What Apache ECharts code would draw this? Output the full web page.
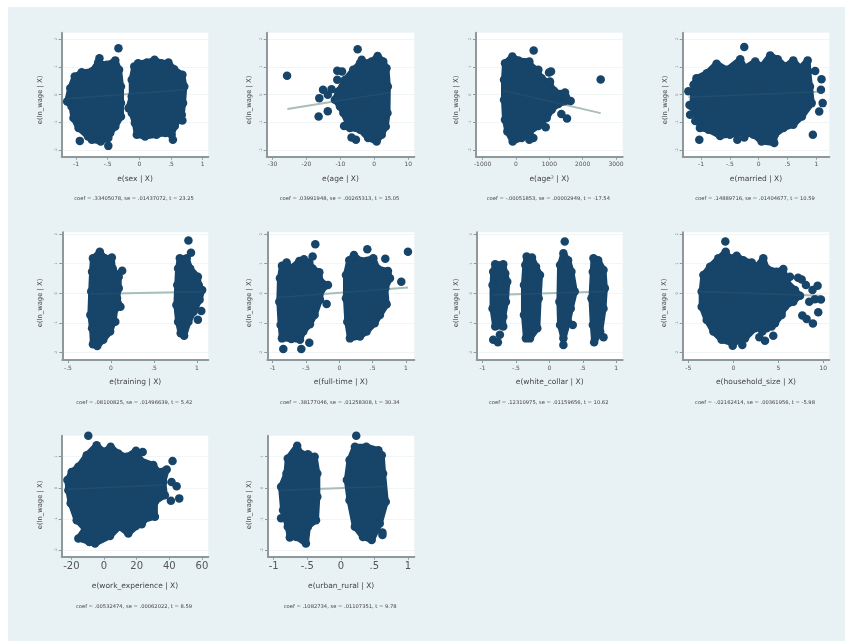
<!DOCTYPE html>
<html>
<head>
<meta charset="utf-8">
<script src="https://cdn.jsdelivr.net/npm/echarts@6/dist/echarts.min.js"></script>
<style>
html, body { margin: 0; padding: 0; background: #fff; }
#chart { width: 845px; height: 641px; filter: blur(0.6px); }
</style>
</head>
<body>
<div id="chart"></div>
<script>
// added-variable plots, values
const xNames = ['e(sex | X)', 'e(age | X)', 'e(age² | X)', 'e(married | X)', 'e(training | X)',
  'e(full-time | X)', 'e(white_collar | X)', 'e(household_size | X)', 'e(work_experience | X)', 'e(urban_rural | X)']
const coefTexts = [
  'coef = .33405078, se = .01437072, t = 23.25',
  'coef = .03991948, se = .00265313, t = 15.05',
  'coef = -.00051853, se = .00002949, t = -17.54',
  'coef = .14889716, se = .01404677, t = 10.59',
  'coef = .08100825, se = .01496639, t = 5.42',
  'coef = .38177046, se = .01258308, t = 30.34',
  'coef = .12310975, se = .01159656, t = 10.62',
  'coef = -.02162414, se = .00361956, t = -5.98',
  'coef = .00532474, se = .00062022, t = 8.59',
  'coef = .1082734, se = .01107351, t = 9.78'
]
const yTicks = [-2, -1, 0, 1, 2]
const yTicksLow = [-2, -1, 0, 1]
const xTicksUnit = [-1, -0.5, 0, 0.5, 1]
const xTicksAge = [-30, -20, -10, 0, 10]
const xTicksAge2 = [-1000, 0, 1000, 2000, 3000]
const xTicksTraining = [-0.5, 0, 0.5, 1]
const xTicksHousehold = [-5, 0, 5, 10]
const xTicksWork = [-20, 0, 20, 40, 60]

// e(sex)
const sexLeft = [[-1.02,.65],[-.91,.8],[-.75,.83],[-.65,1.15],[-.51,1.07],[-.38,1.23],[-.32,.89],[-.29,.29],[-.29,-.31],[-.29,-.79],[-.38,-1.15],[-.46,-1.39],[-.49,-1.57],[-.61,-1.69],[-.75,-1.63],[-.81,-1.51],[-.96,-1.21],[-1.04,-.85],[-1.07,-.43],[-1.14,-.25],[-1.09,.23]]
const sexRight = [[-.08,1.01],[-.02,1.13],[.12,1.15],[.24,1.25],[.35,1.13],[.46,1.15],[.55,.91],[.68,.71],[.71,.29],[.69,-.31],[.67,-.73],[.56,-1.13],[.51,-1.45],[.41,-1.39],[.27,-1.45],[.09,-1.51],[-.04,-1.45],[-.07,-1.03],[-.12,-.67],[-.17,-.49],[-.12,-.07],[-.12,.53]]
const sexOut = [[-.33,1.67],[-.63,1.31],[-.49,-1.85],[-.94,-1.67],[.68,-.94],[.53,-1.63]]
const sexFit = [[-1.15,-.15],[.72,.17]]
// e(age)
const ageBlob = [[-4.2,1.13],[-.8,1.19],[1,1.39],[2.65,1.19],[3.6,.95],[4,.29],[3.9,-.67],[3.4,-1.15],[2.2,-1.45],[.7,-1.69],[-1.8,-1.57],[-4.2,-1.27],[-7.2,-1.21],[-9.1,-.67],[-10.1,-.43],[-11.6,-.19],[-10.6,.11],[-8.6,.53],[-6.2,.89]]
const ageOut = [[-4.9,1.63],[-25.7,.68],[-16.2,-.13],[-16.4,-.79],[-13.7,-.6],[-15.1,.17],[-13.7,-.01],[-12.6,.19],[-10.9,.53],[-10.9,.86],[-9.5,.83],[-8.9,-1.13],[-6.7,-1.55],[-5.4,-1.63],[-3.7,1.25]]
const ageFit = [[-25.6,-.52],[4.6,.07]]
// e(age²)
const age2Blob = [[-330,1.13],[-110,1.37],[70,1.23],[400,1.19],[500,.95],[640,.83],[770,.59],[1000,.41],[1140,.14],[1320,.02],[1470,.07],[1500,-.1],[1640,-.23],[1270,-.34],[1070,-.55],[920,-.85],[670,-1.13],[420,-1.33],[170,-1.57],[-100,-1.69],[-260,-1.33],[-330,-.91],[-360,-.19],[-360,.53]]
const age2Out = [[530,1.59],[2540,.54],[990,.79],[1050,.83],[1020,.47],[1360,-.7],[1530,-.86],[890,-1.18],[520,-1.57],[400,-1.63],[670,.89]]
const age2Fit = [[-380,.14],[2540,-.67]]
// e(married)
const marriedBlob = [[-1.08,.59],[-.9,.77],[-.73,1.11],[-.55,.89],[-.32,1.27],[-.24,.95],[-.06,1.19],[.05,1.01],[.2,1.41],[.33,1.27],[.46,1.01],[.6,1.23],[.72,.95],[.85,1.23],[.86,.83],[.89,.29],[.92,-.31],[.75,-.79],[.6,-1.09],[.43,-1.21],[.28,-1.45],[.27,-1.75],[.05,-1.69],[-.09,-1.45],[-.27,-1.39],[-.5,-1.45],[-.67,-1.49],[-.87,-1.27],[-1.02,-1.21],[-1.05,-.79],[-1.16,-.43],[-1.13,.05],[-1.13,.35]]
const marriedOut = [[-.25,1.71],[-1.22,.12],[-1.2,-.38],[-1.19,-.73],[-1.1,-.95],[-1.03,-1.63],[-.37,-1.63],[-.25,-1.55],[.98,.85],[1.09,.55],[1.08,.17],[1.11,-.31],[1.05,-.61],[.94,-1.45]]
const marriedFit = [[-1.22,-.1],[1.15,.11]]
// e(training)
const trainingLeft = [[-.21,1.18],[-.13,1.4],[-.07,1.18],[.01,1.21],[.02,.84],[.09,.56],[.09,.17],[.07,-.17],[.11,-.45],[.05,-.51],[.03,-.96],[-.01,-1.29],[-.09,-1.57],[-.16,-1.78],[-.21,-1.72],[-.22,-1.18],[-.24,-.73],[-.23,.06],[-.22,.73]]
const trainingRight = [[.8,1.18],[.88,1.18],[.92,.84],[1.01,.56],[1.02,.28],[1.06,.11],[1.03,-.22],[.96,-.62],[.9,-.96],[.85,-1.43],[.81,-1.35],[.78,-.96],[.76,-.39],[.77,.28],[.78,.84]]
const trainingOut = [[.13,.76],[.05,-.96],[.9,1.78],[.93,1.37],[1.05,-.6],[1.01,-.89]]
const trainingFit = [[-.24,-.02],[1.06,.05]]
// e(full-time)
const fullLeft = [[-.86,.93],[-.79,1.04],[-.73,.84],[-.6,1.09],[-.53,1.15],[-.45,1.04],[-.4,.84],[-.3,.71],[-.28,.39],[-.17,.28],[-.27,.11],[-.29,-.22],[-.37,-.73],[-.44,-1.04],[-.54,-1.29],[-.59,-1.57],[-.72,-1.54],[-.86,-1.52],[-.88,-1.07],[-.9,-.28],[-.89,.51]]
const fullRight = [[.15,1.12],[.22,1.29],[.32,1.09],[.51,1.18],[.57,.84],[.73,.75],[.76,.51],[.69,.17],[.71,-.37],[.61,-.73],[.53,-1.01],[.41,-1.29],[.31,-1.46],[.16,-1.52],[.12,-.96],[.1,-.17],[.1,.62]]
const fullOut = [[-.36,1.66],[-.4,1.24],[-.19,-.36],[-.45,-1.67],[-.57,-1.88],[-.84,-1.88],[.42,1.49],[.69,1.17],[1.03,1.4],[.93,.39]]
const fullFit = [[-.92,-.14],[1.03,.2]]
// e(white_collar)
const collarA = [[-.81,.98],[-.69,.98],[-.66,.67],[-.63,.39],[-.65,-.28],[-.69,-.79],[-.69,-1.12],[-.81,-1.12],[-.85,-.51],[-.85,.28],[-.84,.73]]
const collarB = [[-.34,1.24],[-.26,1.21],[-.2,.9],[-.14,.62],[-.16,-.17],[-.18,-1.18],[-.29,-1.52],[-.35,-1.52],[-.38,-.73],[-.38,.28],[-.36,.96]]
const collarC = [[.21,1.35],[.28,1.12],[.33,.73],[.38,.06],[.32,-.51],[.28,-.96],[.21,-1.52],[.16,-1.07],[.15,-.28],[.16,.96]]
const collarD = [[.66,1.18],[.73,1.12],[.81,.79],[.83,.17],[.81,-.51],[.76,-1.29],[.67,-1.65],[.65,-1.07],[.63,-.17],[.65,.73]]
const collarOut = [[-.84,-1.57],[-.77,-1.65],[-.74,-1.4],[.23,1.75],[.21,-1.74],[.35,-1.07],[.81,-1.48]]
const collarFit = [[-.85,-.06],[.83,.06]]
// e(household_size)
const householdBlob = [[-3.52,.06],[-3.33,.62],[-2.59,.9],[-1.67,1.18],[-.85,1.4],[-.37,1.18],[.37,1.27],[1.11,1.12],[2.04,1.04],[2.59,.9],[3.33,1.18],[3.7,.84],[4.81,.73],[5.56,.82],[5.93,.39],[6.85,.11],[7.41,-.08],[6.67,-.28],[5.74,-.45],[5.37,-.73],[4.63,-1.01],[3.7,-1.18],[2.41,-1.18],[1.3,-1.52],[-.07,-1.69],[-1.3,-1.57],[-2.22,-1.29],[-2.96,-.9],[-3.52,-.45]]
const householdOut = [[-.89,1.75],[6.3,.56],[7.2,.53],[7.6,.47],[8.07,.28],[8.8,.11],[9.37,.26],[8.44,-.28],[9.07,-.2],[9.74,-.21],[9.44,-.64],[7.67,-.75],[8.15,-.87],[8.85,-1.02],[4.44,-1.43],[3.52,-1.6],[2.89,-1.48],[3.22,-1.29],[4.26,-1.12],[1,-1.74],[-.07,-1.77]]
const householdFit = [[-3.9,.06],[9.8,-.08]]
// e(work_experience)
const workBlob = [[-22.4,.25],[-19.8,.51],[-15.7,.68],[-10.6,1.05],[-4.5,1.37],[0,1.16],[4.1,1.32],[8.8,1.1],[13.9,1],[19.6,1.19],[22,.89],[30.2,.73],[33.3,.51],[38.4,.59],[36.3,.19],[37.3,-.24],[31.2,-.45],[31.2,-.93],[24.1,-1.04],[14.9,-1.47],[9.4,-1.25],[3.7,-1.55],[-5.5,-1.79],[-9,-1.74],[-15.7,-1.63],[-11.6,-1.31],[-16.7,-1.04],[-20.4,-.5],[-21.8,-.08]]
const workOut = [[-9.6,1.67],[23.7,1.15],[42,.86],[41.4,.19],[44.5,.05],[41,-.42],[46.1,-.34],[19.6,-1.23],[23.1,-1.17]]
const workFit = [[-21.8,-.05],[36.3,.09]]
// e(urban_rural)
const urbanLeft = [[-.79,.94],[-.65,1.35],[-.6,1.1],[-.49,1.08],[-.39,1],[-.35,.46],[-.35,-.29],[-.37,-1.04],[-.49,-1.25],[-.52,-1.79],[-.66,-1.58],[-.76,-1.6],[-.79,-1.25],[-.86,-.72],[-.89,.03],[-.81,.46]]
const urbanRight = [[.13,.89],[.21,1.32],[.38,1.32],[.56,1.21],[.61,1.05],[.63,.46],[.67,-.45],[.58,-1.15],[.46,-1.68],[.33,-1.58],[.21,-1.25],[.13,-.4],[.09,.25]]
const urbanOut = [[-.89,-.98],[-.54,-1.52],[.23,1.67],[.62,-1.44],[.62,-1.52]]
const urbanFit = [[-.89,-.08],[.67,.04]]

const navy = '#174469'
const fitColor = '#a9bfb8'
const axisColor = '#8f999b'
const rows = [
  { top: 32.7, bottom: 156.7, yMin: -2.24, yMax: 2.227, ticks: yTicks, nameY: 178.7, coefY: 199.3, yNameC: 100 },
  { top: 232.3, bottom: 360, yMin: -2.25, yMax: 2.06, ticks: yTicks, nameY: 382, coefY: 403, yNameC: 303 },
  { top: 435.7, bottom: 556.7, yMin: -2.215, yMax: 1.675, ticks: yTicksLow, nameY: 585.7, coefY: 606.7, yNameC: 505 }
]
// 每个子图: 位置, 轴范围, 点团, 离群点, 拟合线
const panels = [
  { row: 0, left: 61.7, right: 208.3, yNameX: 40, xMin: -1.226, xMax: 1.089, xTicks: xTicksUnit, blobs: [sexLeft, sexRight], out: sexOut, fit: sexFit, font: 6 },
  { row: 0, left: 266.7, right: 414.3, yNameX: 249, xMin: -31.7, xMax: 11.8, xTicks: xTicksAge, blobs: [ageBlob], out: ageOut, fit: ageFit, font: 6 },
  { row: 0, left: 476, right: 622.7, yNameX: 456.7, xMin: -1200, xMax: 3200, xTicks: xTicksAge2, blobs: [age2Blob], out: age2Out, fit: age2Fit, font: 6 },
  { row: 0, left: 682.7, right: 829.3, yNameX: 665, xMin: -1.318, xMax: 1.225, xTicks: xTicksUnit, blobs: [marriedBlob], out: marriedOut, fit: marriedFit, font: 6 },
  { row: 1, left: 62.3, right: 208.3, yNameX: 40, xMin: -.566, xMax: 1.131, xTicks: xTicksTraining, blobs: [trainingLeft, trainingRight], out: trainingOut, fit: trainingFit, font: 6 },
  { row: 1, left: 267.3, right: 414.3, yNameX: 249, xMin: -1.08, xMax: 1.125, xTicks: xTicksUnit, blobs: [fullLeft, fullRight], out: fullOut, fit: fullFit, font: 6 },
  { row: 1, left: 476.7, right: 622.7, yNameX: 456, xMin: -1.087, xMax: 1.097, xTicks: xTicksUnit, blobs: [collarA, collarB, collarC, collarD], out: collarOut, fit: collarFit, font: 6 },
  { row: 1, left: 682.7, right: 829.3, yNameX: 664, xMin: -5.63, xMax: 10.67, xTicks: xTicksHousehold, blobs: [householdBlob], out: householdOut, fit: householdFit, font: 6 },
  { row: 2, left: 61.7, right: 208.3, yNameX: 40, xMin: -25.9, xMax: 63.9, xTicks: xTicksWork, blobs: [workBlob], out: workOut, fit: workFit, font: 10 },
  { row: 2, left: 268, right: 414.3, yNameX: 249, xMin: -1.085, xMax: 1.095, xTicks: xTicksUnit, blobs: [urbanLeft, urbanRight], out: urbanOut, fit: urbanFit, font: 10 }
]

const shortNum = (v) => String(v).replace('0.', '.')

// 点团内部用多边形填满
const blobSeries = (points, i) => ({
  type: 'custom',
  xAxisIndex: i,
  yAxisIndex: i,
  z: 3,
  silent: true,
  clip: true,
  encode: { x: 0, y: 1 },
  data: points,
  renderItem: (params, api) => {
    if (params.dataIndex !== 0) return null
    return {
      type: 'polygon',
      shape: { points: points.map((p) => api.coord(p)) },
      style: { fill: navy, stroke: navy, lineWidth: 6, lineJoin: 'round' }
    }
  }
})

const options = {
  backgroundColor: '#fff',
  animation: false,
  textStyle: { fontFamily: 'DejaVu Sans' },
  graphic: [{
    type: 'rect',
    z: -10,
    shape: { x: 8, y: 7, width: 837, height: 634 },
    style: { fill: '#e8f1f4' }
  }],
  grid: [],
  xAxis: [],
  yAxis: [],
  title: [],
  series: []
}

panels.forEach((p, i) => {
  const r = rows[p.row]
  options.grid.push({
    left: p.left, top: r.top, width: p.right - p.left, height: r.bottom - r.top,
    show: true, backgroundColor: '#fff', borderWidth: 0
  })
  options.xAxis.push({
    gridIndex: i, type: 'value', min: p.xMin, max: p.xMax,
    name: xNames[i], nameLocation: 'middle', nameGap: r.nameY - r.bottom - 4,
    nameTextStyle: { fontSize: 7.5, color: '#444' },
    axisLine: { show: true, onZero: false, lineStyle: { color: axisColor, width: 2 } },
    axisTick: { show: true, length: 3, customValues: p.xTicks, lineStyle: { color: axisColor } },
    axisLabel: { customValues: p.xTicks, formatter: shortNum, fontSize: p.font, color: '#555', margin: 5 },
    splitLine: { show: false }
  })
  options.yAxis.push({
    gridIndex: i, type: 'value', min: r.yMin, max: r.yMax,
    axisLine: { show: true, onZero: false, lineStyle: { color: axisColor, width: 2 } },
    axisTick: { show: true, length: 3, customValues: r.ticks, lineStyle: { color: axisColor } },
    axisLabel: { customValues: r.ticks, rotate: 90, fontSize: 3.5, color: '#777', margin: 4 },
    splitLine: { show: true, lineStyle: { color: '#f0f5f6', width: 1 } }
  })
  options.graphic.push({
    type: 'text',
    x: p.yNameX,
    y: r.yNameC,
    rotation: Math.PI / 2,
    style: { text: 'e(ln_wage | X)', fontSize: 6.8, fontFamily: 'DejaVu Sans', fill: '#444', align: 'center', verticalAlign: 'middle' }
  })
  options.title.push({
    text: coefTexts[i],
    left: (p.left + p.right) / 2 - 1,
    top: r.coefY - 3,
    padding: 0,
    textAlign: 'center',
    textStyle: { fontSize: 5.2, fontWeight: 'normal', color: '#444', fontFamily: 'DejaVu Sans' }
  })
  // 拟合线在点下面, 点团内只隐约可见
  options.series.push({
    type: 'line', xAxisIndex: i, yAxisIndex: i, z: 2, showSymbol: false, silent: true,
    data: p.fit, lineStyle: { color: fitColor, width: 2 }
  })
  p.blobs.forEach((b) => options.series.push(blobSeries(b, i)))
  options.series.push({
    type: 'scatter', xAxisIndex: i, yAxisIndex: i, z: 3, symbolSize: 8.5, silent: true,
    data: p.blobs.flat().concat(p.out), itemStyle: { color: navy, opacity: 1 }
  })
  options.series.push({
    type: 'line', xAxisIndex: i, yAxisIndex: i, z: 4, showSymbol: false, silent: true,
    data: p.fit, lineStyle: { color: fitColor, width: 1.5, opacity: 0.08 }
  })
})

const mChart = echarts.init(document.getElementById('chart'))
mChart.setOption(options)
</script>
</body>
</html>
